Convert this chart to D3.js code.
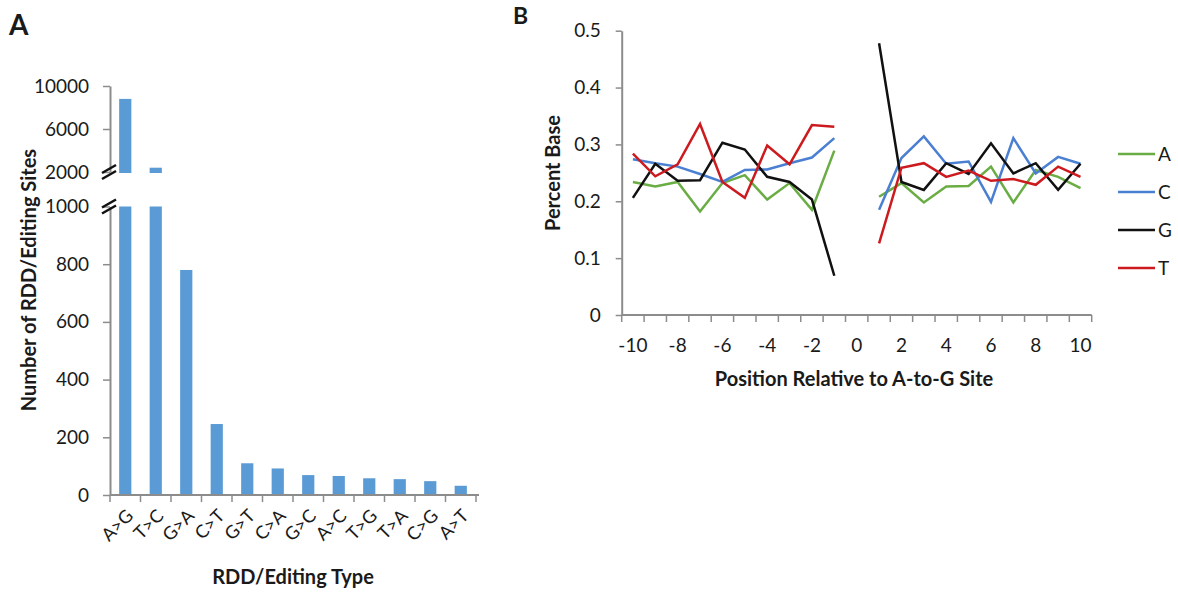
<!DOCTYPE html>
<html>
<head>
<meta charset="utf-8">
<script src="https://cdn.jsdelivr.net/npm/d3@7"></script>
<style>
  body { margin: 0; background: #fff; }
  svg text { font-family: Lato, "Open Sans", sans-serif; fill: #1a1a1a; }
</style>
</head>
<body>
<svg id="chart" width="1178" height="592"></svg>
<script>
// Panel A data
const editTypes = ["A>G", "T>C", "G>A", "C>T", "G>T", "C>A", "G>C", "A>C", "T>G", "T>A", "C>G", "A>T"];
const editCounts = [8800, 2400, 780, 246, 110, 92, 69, 66, 58, 55, 48, 32];
const lowTicks = [0, 200, 400, 600, 800, 1000];
const highTicks = [2000, 6000, 10000];

// Panel B data (position 0 is the edited site itself, no value)
const positions = [-10, -9, -8, -7, -6, -5, -4, -3, -2, -1, 0, 1, 2, 3, 4, 5, 6, 7, 8, 9, 10];
const baseA = [0.234, 0.226, 0.234, 0.182, 0.232, 0.246, 0.203, 0.232, 0.185, 0.289, null,
               0.208, 0.232, 0.198, 0.226, 0.227, 0.261, 0.198, 0.255, 0.243, 0.223];
const baseC = [0.274, 0.267, 0.261, 0.248, 0.234, 0.255, 0.256, 0.267, 0.277, 0.311, null,
               0.185, 0.276, 0.314, 0.266, 0.270, 0.199, 0.311, 0.249, 0.278, 0.266];
const baseG = [0.206, 0.266, 0.236, 0.237, 0.303, 0.291, 0.243, 0.234, 0.203, 0.069, null,
               0.478, 0.234, 0.220, 0.267, 0.248, 0.302, 0.249, 0.267, 0.220, 0.266];
const baseT = [0.284, 0.244, 0.265, 0.336, 0.234, 0.206, 0.298, 0.265, 0.334, 0.331, null,
               0.126, 0.259, 0.267, 0.243, 0.254, 0.236, 0.239, 0.229, 0.261, 0.243];
const posTicks = [-10, -8, -6, -4, -2, 0, 2, 4, 6, 8, 10];
const pctTicks = [0, 0.1, 0.2, 0.3, 0.4, 0.5];

const axisColor = "#8c8c8c";
const barColor = "#5b9bd5";
const tickFont = 19;
const titleFont = 20;

const svg = d3.select("#chart");

// ---------------- Panel A ----------------
svg.append("text").attr("x", 9).attr("y", 35)
    .attr("font-size", 28).attr("font-weight", "bold").text("A");

const xA = d3.scaleBand().domain(editTypes).range([110, 476])
    .paddingInner(0.6).paddingOuter(0.3);
const yLow = d3.scaleLinear().domain([0, 1000]).range([495, 206.5]);
const yHigh = d3.scaleLinear().domain([2000, 10000]).range([172, 86]);

const gA = svg.append("g");

// lower bars (clipped at 1000)
gA.selectAll(".barLow").data(editTypes).join("rect")
    .attr("x", d => xA(d))
    .attr("width", xA.bandwidth())
    .attr("y", (d, i) => yLow(Math.min(editCounts[i], 1000)))
    .attr("height", (d, i) => yLow(0) - yLow(Math.min(editCounts[i], 1000)))
    .attr("fill", barColor);

// upper bars (only above 2000)
gA.selectAll(".barHigh").data(editTypes.filter((d, i) => editCounts[i] > 2000)).join("rect")
    .attr("x", d => xA(d))
    .attr("width", xA.bandwidth())
    .attr("y", d => yHigh(editCounts[editTypes.indexOf(d)]))
    .attr("height", d => yHigh(2000) - yHigh(editCounts[editTypes.indexOf(d)]) + 1)
    .attr("fill", barColor);

function styleAxis(g) {
    g.select(".domain").attr("stroke", axisColor).attr("stroke-width", 2);
    g.selectAll(".tick line").attr("stroke", axisColor).attr("stroke-width", 1.5);
    g.selectAll(".tick text").attr("fill", "#1a1a1a")
        .style("font-family", "Lato, 'Open Sans', sans-serif");
}

gA.append("g").attr("transform", "translate(110,0)")
    .call(d3.axisLeft(yLow).tickValues(lowTicks).tickSize(7).tickSizeOuter(0).tickPadding(14)
        .tickFormat(d3.format("d")))
    .call(styleAxis)
    .selectAll(".tick text").attr("font-size", tickFont);

gA.append("g").attr("transform", "translate(110,0)")
    .call(d3.axisLeft(yHigh).tickValues(highTicks).tickSize(7).tickSizeOuter(0).tickPadding(14)
        .tickFormat(d3.format("d")))
    .call(styleAxis)
    .selectAll(".tick text").attr("font-size", tickFont);

// axis break marks
[yHigh(2000), yLow(1000)].forEach(yb => {
    [-3, 3].forEach(off => {
        gA.append("line")
            .attr("x1", 102).attr("y1", yb + off + 4)
            .attr("x2", 116).attr("y2", yb + off - 4)
            .attr("stroke", "#111").attr("stroke-width", 2.5);
    });
});

// x axis
const xAxisA = gA.append("g").attr("transform", "translate(0,495)");
xAxisA.append("line").attr("x1", 110).attr("x2", 479).attr("y1", 0).attr("y2", 0)
    .attr("stroke", axisColor).attr("stroke-width", 2);
const stepA = xA.step();
xAxisA.selectAll(".tk").data(d3.range(editTypes.length + 1)).join("line")
    .attr("x1", i => xA(editTypes[0]) - stepA * 0.3 + i * stepA)
    .attr("x2", i => xA(editTypes[0]) - stepA * 0.3 + i * stepA)
    .attr("y1", 0).attr("y2", 7)
    .attr("stroke", axisColor).attr("stroke-width", 1.5);
xAxisA.selectAll(".lbl").data(editTypes).join("text")
    .attr("transform", d => `translate(${xA(d) + xA.bandwidth() / 2 + 9},22) rotate(-45)`)
    .attr("text-anchor", "end")
    .attr("font-size", 18)
    .text(d => d);

svg.append("text").attr("x", 293).attr("y", 584)
    .attr("text-anchor", "middle").attr("font-size", titleFont).attr("font-weight", "bold")
    .text("RDD/Editing Type");
svg.append("text").attr("transform", "translate(36,280) rotate(-90)")
    .attr("text-anchor", "middle").attr("font-size", titleFont).attr("font-weight", "bold")
    .text("Number of RDD/Editing Sites");

// ---------------- Panel B ----------------
svg.append("text").attr("x", 513).attr("y", 24)
    .attr("font-size", 23).attr("font-weight", "bold").text("B");

const xB = d3.scaleBand().domain(positions).range([621.7, 1091.7]);
const yB = d3.scaleLinear().domain([0, 0.5]).range([315, 30.7]);
const gB = svg.append("g");

gB.append("g").attr("transform", "translate(621.7,0)")
    .call(d3.axisLeft(yB).tickValues(pctTicks).tickSize(6).tickSizeOuter(0).tickPadding(15)
        .tickFormat(d => d === 0 ? "0" : d3.format(".1f")(d)))
    .call(styleAxis)
    .selectAll(".tick text").attr("font-size", tickFont);

const xAxisB = gB.append("g").attr("transform", "translate(0,315)");
xAxisB.append("line").attr("x1", 621.7).attr("x2", 1091.7)
    .attr("stroke", axisColor).attr("stroke-width", 2);
xAxisB.selectAll(".tk").data(d3.range(positions.length + 1)).join("line")
    .attr("x1", i => 621.7 + i * xB.step()).attr("x2", i => 621.7 + i * xB.step())
    .attr("y1", 0).attr("y2", 7)
    .attr("stroke", axisColor).attr("stroke-width", 1.5);
xAxisB.selectAll(".lbl").data(posTicks).join("text")
    .attr("x", d => xB(d) + xB.bandwidth() / 2)
    .attr("y", 37)
    .attr("text-anchor", "middle").attr("font-size", tickFont)
    .text(d => d);

svg.append("text").attr("x", 854).attr("y", 386)
    .attr("text-anchor", "middle").attr("font-size", titleFont).attr("font-weight", "bold")
    .text("Position Relative to A-to-G Site");
svg.append("text").attr("transform", "translate(560,173) rotate(-90)")
    .attr("text-anchor", "middle").attr("font-size", titleFont).attr("font-weight", "bold")
    .text("Percent Base");

const series = [
    {name: "A", values: baseA, color: "#6aad45"},
    {name: "C", values: baseC, color: "#4a7fd2"},
    {name: "G", values: baseG, color: "#111111"},
    {name: "T", values: baseT, color: "#cc1a1f"},
];

const line = d3.line()
    .defined(d => d.v != null)
    .x(d => xB(d.p) + xB.bandwidth() / 2)
    .y(d => yB(d.v));

series.forEach(s => {
    gB.append("path")
        .datum(positions.map((p, i) => ({p: p, v: s.values[i]})))
        .attr("d", line)
        .attr("fill", "none")
        .attr("stroke", s.color)
        .attr("stroke-width", 2.5)
        .attr("stroke-linejoin", "miter");
});

// legend
const legend = svg.append("g").attr("transform", "translate(1118,154)");
series.forEach((s, i) => {
    const row = legend.append("g").attr("transform", `translate(0,${i * 38})`);
    row.append("line").attr("x1", 0).attr("x2", 37).attr("stroke", s.color).attr("stroke-width", 2.5);
    row.append("text").attr("x", 40).attr("y", 7).attr("font-size", tickFont).text(s.name);
});
</script>
</body>
</html>
